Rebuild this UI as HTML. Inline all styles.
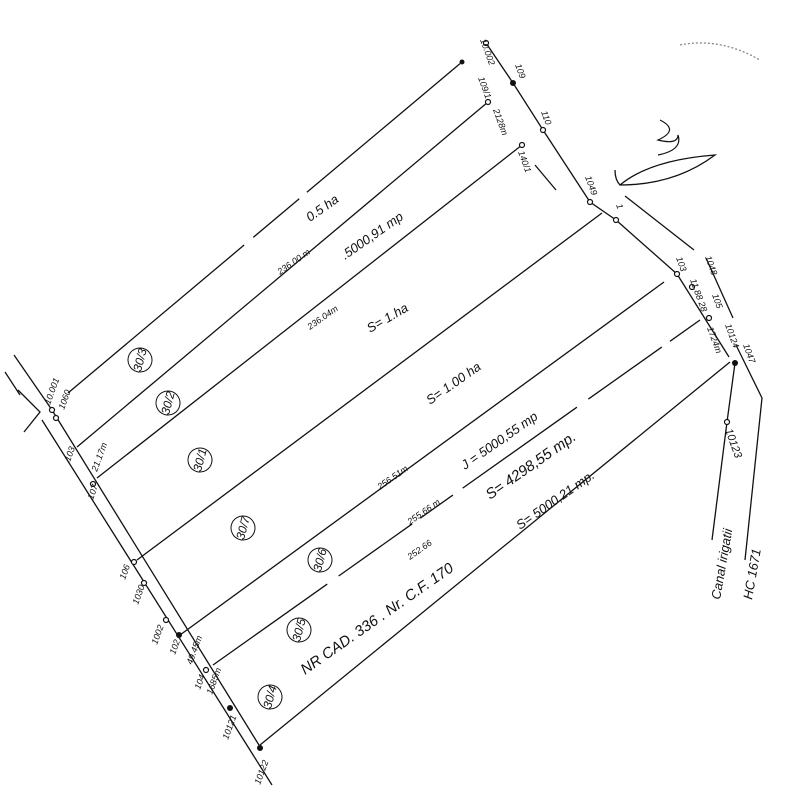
<!DOCTYPE html>
<html><head><meta charset="utf-8"><style>
html,body{margin:0;padding:0;background:#fff;}
svg{display:block}
text{font-family:"Liberation Sans",sans-serif;fill:#111;font-style:italic}
</style></head><body>
<svg width="800" height="789" viewBox="0 0 800 789" xmlns="http://www.w3.org/2000/svg">
<g stroke="#111" stroke-width="1.3" fill="none">
<line x1="52" y1="410" x2="262" y2="750"/>
<line x1="42" y1="420" x2="272" y2="785"/>
<line x1="14" y1="355" x2="52" y2="410"/>
<polyline points="18,390 40,412 24,432"/>
<line x1="5" y1="372" x2="20" y2="395"/>
<line x1="68" y1="393" x2="462" y2="62" stroke-dasharray="230,12,60,10,200"/>
<line x1="77" y1="447" x2="488" y2="102"/>
<line x1="97" y1="478" x2="522" y2="145"/>
<line x1="137" y1="560" x2="602" y2="213"/>
<line x1="180" y1="635" x2="664" y2="282"/>
<line x1="213" y1="665" x2="700" y2="320" stroke-dasharray="140,14,90,10,40,12"/>
<line x1="260" y1="745" x2="730" y2="362"/>
<polyline points="486,43 513,83 543,130 590,202 616,220 677,274"/>
<line x1="677" y1="274" x2="729" y2="357"/>
<line x1="735" y1="363" x2="727" y2="422"/>
<line x1="727" y1="422" x2="712" y2="540"/>
<line x1="625" y1="196" x2="694" y2="250"/>
<line x1="706" y1="258" x2="733" y2="318"/>
<polyline points="736,345 762,398 745,560"/>
<line x1="535" y1="165" x2="556" y2="190"/>
<path d="M660,120 q20,10 -2,20 q20,5 20,-5 q5,15 -20,20" stroke-width="1.2"/>
<path d="M620,185 q30,-25 95,-30 q-40,30 -95,30 q-5,-5 -5,-15"/>
<path d="M680,45 q40,-8 80,15" stroke-dasharray="2,2" stroke="#888"/>
</g>
<g fill="#fff" stroke="#111" stroke-width="1.2">
<circle cx="52" cy="410" r="2.5"/><circle cx="56" cy="418" r="2.5"/><circle cx="93" cy="484" r="2.5"/>
<circle cx="134" cy="562" r="2.5"/><circle cx="144" cy="583" r="2.5"/><circle cx="166" cy="620" r="2.5"/>
<circle cx="206" cy="670" r="2.5"/><circle cx="486" cy="43" r="2.5"/><circle cx="488" cy="102" r="2.5"/>
<circle cx="543" cy="130" r="2.5"/><circle cx="522" cy="145" r="2.5"/><circle cx="590" cy="202" r="2.5"/>
<circle cx="616" cy="220" r="2.5"/><circle cx="677" cy="274" r="2.5"/><circle cx="692" cy="287" r="2.5"/>
<circle cx="709" cy="318" r="2.5"/><circle cx="727" cy="422" r="2.5"/>
</g>
<g fill="#111"><circle cx="513" cy="83" r="3"/><circle cx="462" cy="62" r="2.5"/><circle cx="230" cy="708" r="3"/><circle cx="260" cy="748" r="3"/><circle cx="179" cy="635" r="3"/><circle cx="735" cy="363" r="3"/></g>
<g font-size="13">
<text transform="translate(310,222) rotate(-35)">0.5 ha</text>
<text transform="translate(345,260) rotate(-35)">.5000,91 mp</text>
<text transform="translate(370,333) rotate(-30)">S= 1.ha</text>
<text transform="translate(430,405) rotate(-35)">S= 1.00 ha</text>
<text transform="translate(465,470) rotate(-35)">J = 5000,55 mp</text>
<text transform="translate(490,500) rotate(-35)" font-size="15">S= 4298,55 mp.</text>
<text transform="translate(520,530) rotate(-35)">S= 5000,21 mp.</text>
<text transform="translate(305,675) rotate(-35)" font-size="15">NR CAD. 336 . Nr. C.F. 170</text>
</g>
<g font-size="9">
<text transform="translate(280,275) rotate(-35)">236.00 m</text>
<text transform="translate(310,330) rotate(-35)">236.04m</text>
<text transform="translate(380,490) rotate(-35)">256.51m</text>
<text transform="translate(410,525) rotate(-35)">255.66 m</text>
<text transform="translate(410,560) rotate(-35)">252.66</text>
</g>
<g font-size="12" text-anchor="middle">
<g transform="translate(140,360) rotate(-75)"><circle r="12" fill="none" stroke="#111"/><text y="4">30/3</text></g>
<g transform="translate(168,403) rotate(-75)"><circle r="12" fill="none" stroke="#111"/><text y="4">30/2</text></g>
<g transform="translate(200,460) rotate(-75)"><circle r="12" fill="none" stroke="#111"/><text y="4">30/1</text></g>
<g transform="translate(243,528) rotate(-75)"><circle r="12" fill="none" stroke="#111"/><text y="4">30/7</text></g>
<g transform="translate(320,560) rotate(-75)"><circle r="12" fill="none" stroke="#111"/><text y="4">30/6</text></g>
<g transform="translate(299,630) rotate(-75)"><circle r="12" fill="none" stroke="#111"/><text y="4">30/5</text></g>
<g transform="translate(270,697) rotate(-75)"><circle r="12" fill="none" stroke="#111"/><text y="4">30/4</text></g>
</g>
<g font-size="9">
<text transform="translate(50,405) rotate(-70)">10.001</text>
<text transform="translate(64,410) rotate(-70)">1060</text>
<text transform="translate(70,462) rotate(-70)">103</text>
<text transform="translate(97,472) rotate(-70)">21.17m</text>
<text transform="translate(93,500) rotate(-70)">107</text>
<text transform="translate(125,580) rotate(-70)">106</text>
<text transform="translate(138,605) rotate(-70)">1030</text>
<text transform="translate(157,645) rotate(-70)">1002</text>
<text transform="translate(175,655) rotate(-70)">102</text>
<text transform="translate(192,665) rotate(-70)">49.45m</text>
<text transform="translate(200,690) rotate(-70)">104</text>
<text transform="translate(212,695) rotate(-70)">1685m</text>
<text transform="translate(228,740) rotate(-70)">10121</text>
<text transform="translate(260,785) rotate(-70)">10122</text>
<text transform="translate(480,40) rotate(70)">10.002</text>
<text transform="translate(515,65) rotate(70)">109</text>
<text transform="translate(478,78) rotate(70)">109/1</text>
<text transform="translate(541,112) rotate(70)">110</text>
<text transform="translate(493,110) rotate(70)">2128m</text>
<text transform="translate(518,152) rotate(70)">140/1</text>
<text transform="translate(585,177) rotate(70)">1049</text>
<text transform="translate(616,205) rotate(70)">1</text>
<text transform="translate(676,258) rotate(70)">103</text>
<text transform="translate(690,280) rotate(70)">11.88 28</text>
<text transform="translate(705,257) rotate(70)">1048</text>
<text transform="translate(712,295) rotate(70)">105</text>
<text transform="translate(707,328) rotate(70)">1724m</text>
<text transform="translate(725,325) rotate(70)">10124</text>
<text transform="translate(743,345) rotate(70)">1047</text>
<text transform="translate(725,430) rotate(70)" font-size="11">10123</text>
</g>
<g font-size="13">
<text transform="translate(720,600) rotate(-80)">Canal irigatii</text>
<text transform="translate(752,600) rotate(-80)">HC 1671</text>
</g>
</svg>
</body></html>
